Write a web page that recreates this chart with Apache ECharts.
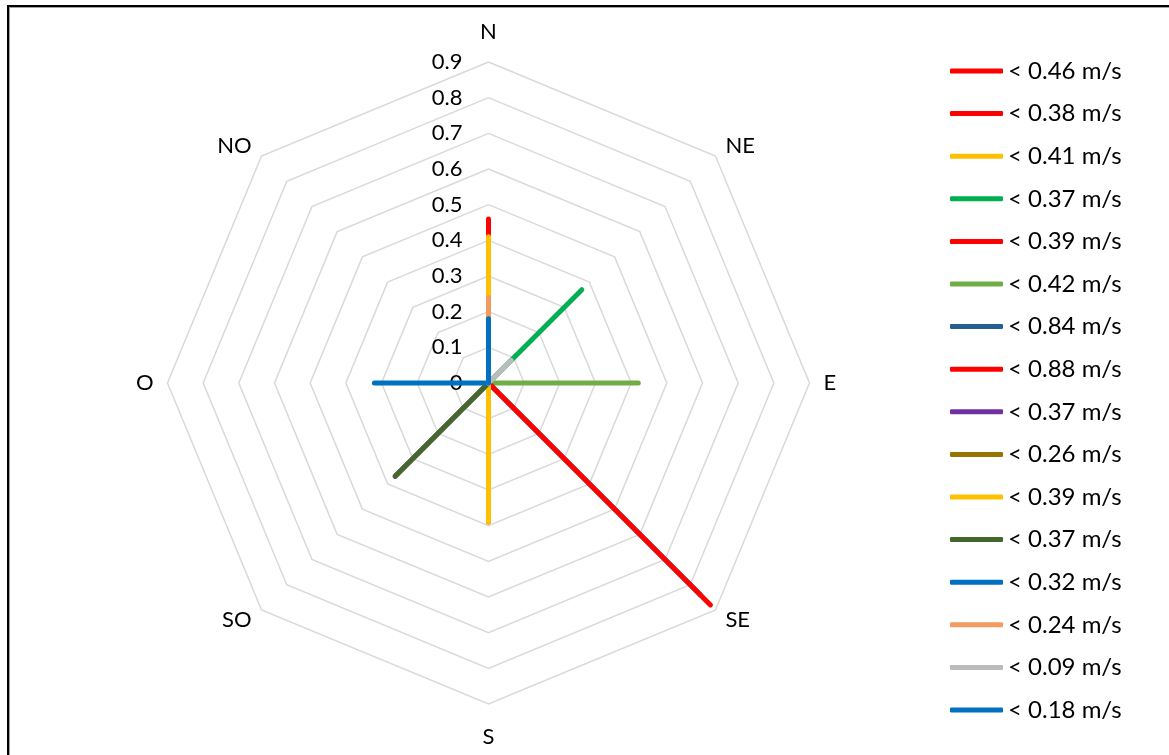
<!DOCTYPE html>
<html>
<head>
<meta charset="utf-8">
<title>Rosa de los vientos</title>
<script src="https://cdn.jsdelivr.net/npm/echarts@6/dist/echarts.min.js"></script>
<style>
  html, body { margin: 0; padding: 0; background: #fff; }
  #chart { position: absolute; left: 0; top: 0; width: 1169px; height: 755px; }
  #frame {
    position: absolute; left: 7px; top: 5px; width: 1170px; height: 760px;
    border-top: 2px solid #000; border-left: 2px solid #000;
    box-shadow: inset 1px 1px 0 #a0a0a0;
    pointer-events: none; z-index: 2;
  }
</style>
</head>
<body>
<div id="chart"></div>
<div id="frame"></div>
<script>
// Compass directions, in clockwise order starting from north
const directions = ['N', 'NE', 'E', 'SE', 'S', 'SO', 'O', 'NO'];

// One class per series: legend text, direction it points to, speed (m/s), colour
const classLabels = ['< 0.46 m/s', '< 0.38 m/s', '< 0.41 m/s', '< 0.37 m/s', '< 0.39 m/s', '< 0.42 m/s',
  '< 0.84 m/s', '< 0.88 m/s', '< 0.37 m/s', '< 0.26 m/s', '< 0.39 m/s', '< 0.37 m/s',
  '< 0.32 m/s', '< 0.24 m/s', '< 0.09 m/s', '< 0.18 m/s'];
const classDirections = ['N', 'N', 'N', 'NE', 'S', 'E', 'SE', 'SE', 'SO', 'S', 'S', 'SO', 'O', 'N', 'NE', 'N'];
const classSpeeds = [0.46, 0.38, 0.41, 0.37, 0.39, 0.42, 0.84, 0.88, 0.37, 0.26, 0.39, 0.37, 0.32, 0.24, 0.09, 0.18];
const classColors = ['#FF0000', '#FF0000', '#FFC000', '#00B050', '#FF0000', '#70AD47', '#255E91', '#FF0000',
  '#7030A0', '#997300', '#FFC000', '#43682B', '#0070C0', '#F19B5F', '#BBBBBB', '#0070C0'];

const radialTicks = ['0', '0.1', '0.2', '0.3', '0.4', '0.5', '0.6', '0.7', '0.8', '0.9'];
const radialMax = 0.9;

const FONT = 'Lato';

const chart = echarts.init(document.getElementById('chart'), null, { renderer: 'canvas' });

// ECharts lays radar indicators out counter-clockwise, so feed them N, NO, O, ... NE
const radarOrder = [0, 7, 6, 5, 4, 3, 2, 1].map(i => directions[i]);

const indicator = radarOrder.map((d, i) => {
  const ind = { name: d, min: 0, max: radialMax };
  if (i === 0) {
    ind.axisLabel = {
      show: true, color: '#000', fontFamily: FONT, fontSize: 22, margin: 26,
      formatter: (v) => radialTicks[Math.round(v * 10)] ?? ''
    };
  }
  return ind;
});

const keys = classLabels.map((_, i) => 'c' + i);

const series = classLabels.map((label, i) => {
  const values = radarOrder.map(d => (d === classDirections[i] ? classSpeeds[i] : 0));
  return {
    type: 'radar',
    name: keys[i],
    symbol: 'none',
    silent: true,
    color: classColors[i],
    lineStyle: { color: classColors[i], width: 5, cap: 'round', join: 'round', opacity: 1 },
    itemStyle: { color: classColors[i] },
    emphasis: { disabled: true },
    data: [{ name: keys[i], value: values }]
  };
});

chart.setOption({
  animation: false,
  backgroundColor: '#fff',
  radar: {
    center: [488.5, 383],
    radius: 321,
    startAngle: 90,
    splitNumber: 9,
    shape: 'polygon',
    indicator: indicator,
    axisName: {
      color: '#000', fontFamily: FONT, fontSize: 22,
      formatter: (name) => (name === 'N' ? '{n|N}' : name === 'S' ? '{s|S}' : name),
      rich: {
        n: { color: '#000', fontFamily: FONT, fontSize: 22, padding: [0, 0, 5, 0] },
        s: { color: '#000', fontFamily: FONT, fontSize: 22, padding: [8, 0, 0, 0] }
      }
    },
    nameGap: 14,
    axisLine: { show: false },
    axisTick: { show: false },
    axisLabel: { show: false },
    splitArea: { show: false },
    splitLine: { lineStyle: { color: '#D9D9D9', width: 1.5 } }
  },
  legend: {
    orient: 'vertical',
    left: 950,
    top: 59,
    padding: 0,
    data: keys,
    icon: 'roundRect',
    itemWidth: 53,
    itemHeight: 5,
    itemGap: 18.6,
    selectedMode: false,
    formatter: (name) => classLabels[keys.indexOf(name)],
    textStyle: { color: '#000', fontFamily: FONT, fontSize: 24 }
  },
  series: series
});
</script>
</body>
</html>
